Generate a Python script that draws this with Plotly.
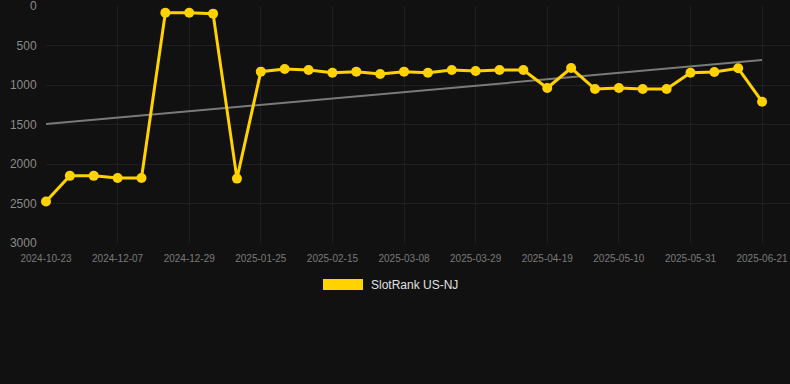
import plotly.graph_objects as go

# ---- data ----
dates = [
    "2024-10-23", "2024-11-09", "2024-11-23", "2024-12-07", "2024-12-14",
    "2024-12-21", "2024-12-29", "2025-01-04", "2025-01-11", "2025-01-25",
    "2025-02-01", "2025-02-08", "2025-02-15", "2025-02-22", "2025-03-01",
    "2025-03-08", "2025-03-15", "2025-03-22", "2025-03-29", "2025-04-05",
    "2025-04-12", "2025-04-19", "2025-04-26", "2025-05-03", "2025-05-10",
    "2025-05-17", "2025-05-24", "2025-05-31", "2025-06-07", "2025-06-14",
    "2025-06-21",
]
rank = [
    2475, 2150, 2150, 2177, 2177,
    85, 85, 97, 2185, 831,
    797, 810, 844, 831, 861,
    831, 844, 810, 823, 810,
    810, 1038, 785, 1051, 1038,
    1051, 1051, 844, 835, 789,
    1211,
]
trend_x = [dates[0], dates[-1]]
trend_y = [1495, 685]

y_ticks = [0, 500, 1000, 1500, 2000, 2500, 3000]
x_ticks = dates[::3]
series_name = "SlotRank US-NJ"

BG = "#111111"
YELLOW = "#ffd200"
GRID = "#1f1f1f"

fig = go.Figure()
fig.add_trace(go.Scatter(
    x=trend_x, y=trend_y, mode="lines",
    line=dict(color="#7a7a7a", width=2),
    showlegend=False, hoverinfo="skip",
))
fig.add_trace(go.Scatter(
    x=dates, y=rank, mode="lines+markers", name=series_name,
    line=dict(color=YELLOW, width=3),
    marker=dict(color=YELLOW, size=10),
    showlegend=False, cliponaxis=False,
))

# manual legend swatch + label
L, R, T, B = 46, 0, 6, 141
pw, ph = 790 - L - R, 384 - T - B
def px_x(x):
    return (x - L) / pw
def px_y(y):
    return (384 - B - y) / ph

fig.add_shape(type="rect", xref="paper", yref="paper",
              x0=px_x(323), x1=px_x(363), y0=px_y(290), y1=px_y(279),
              fillcolor=YELLOW, line=dict(width=0))
fig.add_annotation(xref="paper", yref="paper", x=px_x(369), y=px_y(284.5),
                   text=series_name, showarrow=False, xanchor="left", yanchor="middle",
                   font=dict(size=12, color="#e0e0e0", family="Arial, Liberation Sans, sans-serif"))

fig.update_layout(
    width=790, height=384,
    paper_bgcolor=BG, plot_bgcolor=BG,
    margin=dict(l=L, r=R, t=T, b=B),
    font=dict(family="Arial, Liberation Sans, sans-serif"),
    showlegend=False,
    xaxis=dict(
        type="category", categoryorder="array", categoryarray=dates,
        range=[0, 31.17],
        tickvals=x_ticks, ticktext=x_ticks,
        tickfont=dict(size=10, color="#7a7a7a"),
        showgrid=True, gridcolor=GRID, gridwidth=1,
        zeroline=False, showline=False,
        ticks="outside", ticklen=6, tickcolor="rgba(0,0,0,0)",
        ticklabeloverflow="allow",
    ),
    yaxis=dict(
        range=[3000, 0],
        tickvals=y_ticks, ticktext=[str(v) for v in y_ticks],
        tickfont=dict(size=12, color="#8a8a8a"),
        showgrid=True, gridcolor=GRID, gridwidth=1,
        zeroline=False, showline=False,
        ticks="outside", ticklen=6, tickcolor="rgba(0,0,0,0)",
        ticklabeloverflow="allow",
    ),
)

fig.write_html("out.html", config={"displayModeBar": False},
               post_script="document.body.style.margin='0';document.body.style.background='#111111';")
